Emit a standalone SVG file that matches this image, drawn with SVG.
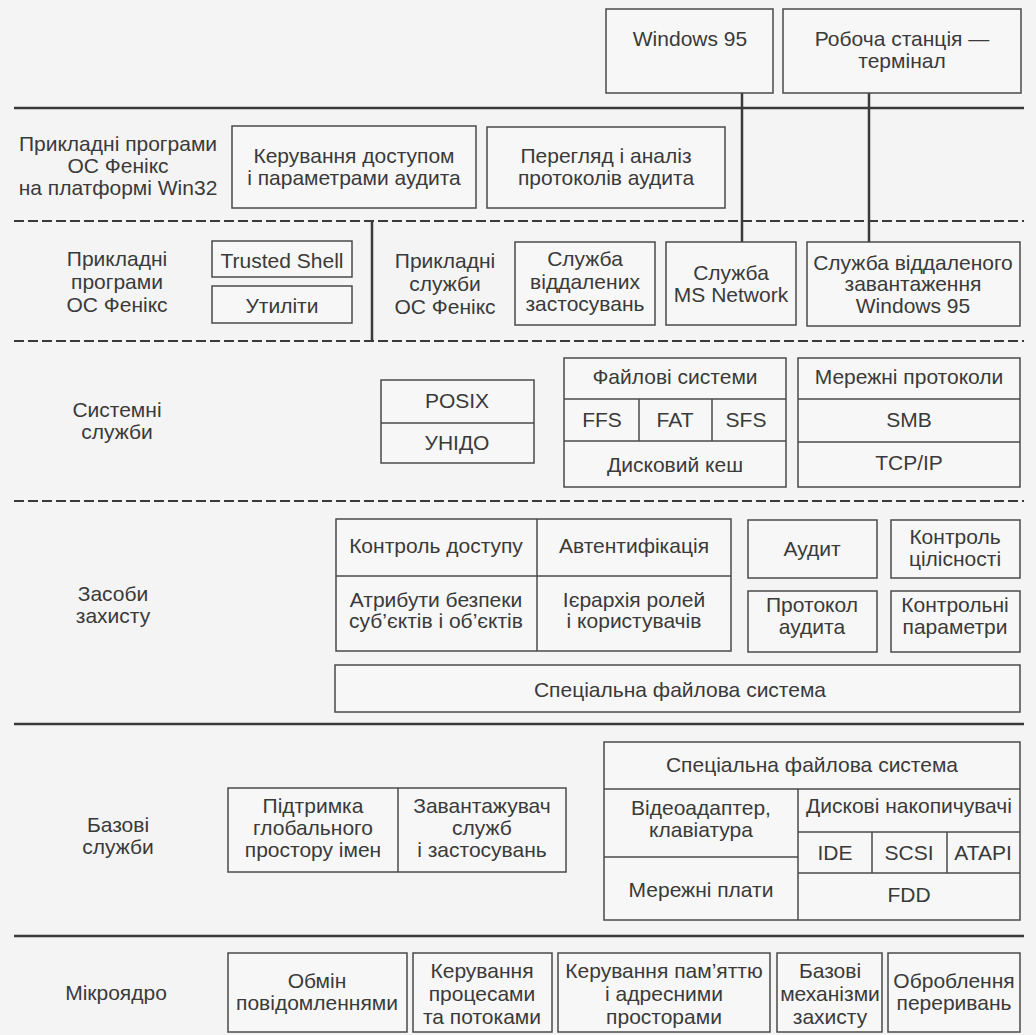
<svg xmlns="http://www.w3.org/2000/svg" width="1036" height="1035" viewBox="0 0 1036 1035">
<style>
.bg{fill:#f4f4f4}
.box{fill:#f7f7f7;stroke:#4a4a4a;stroke-width:1.5}
.dv{stroke:#4a4a4a;stroke-width:1.5;fill:none}
.t{font-family:"Liberation Sans",Arial,sans-serif;font-size:21px;fill:#3a3a3a;text-anchor:middle}
.sep{stroke:#3a3a3a;stroke-width:2.5;fill:none}
.dash{stroke:#3a3a3a;stroke-width:2;stroke-dasharray:10 4;fill:none}
.conn{stroke:#3a3a3a;stroke-width:2.5;fill:none}
</style>
<rect class="bg" x="0" y="0" width="1036" height="1035"/>

<g id="layers">
  <line class="sep" x1="14" y1="108" x2="1024" y2="108"/>
  <line class="dash" x1="14" y1="221" x2="1024" y2="221"/>
  <line class="dash" x1="14" y1="341" x2="1024" y2="341"/>
  <line class="dash" x1="14" y1="501" x2="1024" y2="501"/>
  <line class="sep" x1="14" y1="724" x2="1024" y2="724"/>
  <line class="sep" x1="14" y1="936" x2="1024" y2="936"/>
  <line class="conn" x1="372" y1="221" x2="372" y2="341"/>
</g>

<g id="layer-labels">
  <g id="lbl-win32">
    <text class="t" x="118" y="151">Прикладні програми</text>
    <text class="t" x="118" y="173">ОС Фенікс</text>
    <text class="t" x="118" y="195">на платформі Win32</text>
  </g>
  <g id="lbl-apps">
    <text class="t" x="117" y="266">Прикладні</text>
    <text class="t" x="117" y="289">програми</text>
    <text class="t" x="117" y="312">ОС Фенікс</text>
  </g>
  <g id="lbl-sys">
    <text class="t" x="117" y="417">Системні</text>
    <text class="t" x="117" y="439">служби</text>
  </g>
  <g id="lbl-sec">
    <text class="t" x="113" y="601">Засоби</text>
    <text class="t" x="113" y="623">захисту</text>
  </g>
  <g id="lbl-base">
    <text class="t" x="118" y="832">Базові</text>
    <text class="t" x="118" y="854">служби</text>
  </g>
  <g id="lbl-micro">
    <text class="t" x="116" y="1000">Мікроядро</text>
  </g>
</g>

<g id="connectors">
  <line class="conn" x1="742" y1="93" x2="742" y2="242"/>
  <line class="conn" x1="869" y1="93" x2="869" y2="242"/>
</g>

<g id="win95">
  <rect class="box" x="606" y="9" width="167" height="84"/>
  <text class="t" x="690" y="46">Windows 95</text>
</g>
<g id="workstation">
  <rect class="box" x="783" y="9" width="238" height="84"/>
  <text class="t" x="902" y="46">Робоча станція —</text>
  <text class="t" x="902" y="68">термінал</text>
</g>

<g id="access-audit-params">
  <rect class="box" x="232" y="126" width="244" height="82"/>
  <text class="t" x="354" y="163">Керування доступом</text>
  <text class="t" x="354" y="185">і параметрами аудита</text>
</g>
<g id="audit-view">
  <rect class="box" x="487" y="127" width="238" height="81"/>
  <text class="t" x="606" y="163">Перегляд і аналіз</text>
  <text class="t" x="606" y="185">протоколів аудита</text>
</g>

<g id="trusted-shell">
  <rect class="box" x="212" y="241" width="140" height="36"/>
  <text class="t" x="282" y="268">Trusted Shell</text>
</g>
<g id="utilities">
  <rect class="box" x="212" y="286" width="140" height="37"/>
  <text class="t" x="282" y="313">Утиліти</text>
</g>
<g id="app-services">
  <text class="t" x="445" y="268">Прикладні</text>
  <text class="t" x="445" y="291">служби</text>
  <text class="t" x="445" y="314">ОС Фенікс</text>
</g>
<g id="remote-apps">
  <rect class="box" x="515" y="242" width="140" height="83"/>
  <text class="t" x="585" y="266">Служба</text>
  <text class="t" x="585" y="289">віддалених</text>
  <text class="t" x="585" y="311">застосувань</text>
</g>
<g id="ms-network">
  <rect class="box" x="666" y="242" width="130" height="83"/>
  <text class="t" x="731" y="280">Служба</text>
  <text class="t" x="731" y="302">MS Network</text>
</g>
<g id="remote-boot">
  <rect class="box" x="807" y="242" width="213" height="84"/>
  <text class="t" x="913" y="270">Служба віддаленого</text>
  <text class="t" x="913" y="291">завантаження</text>
  <text class="t" x="913" y="313">Windows 95</text>
</g>

<g id="posix-unido">
  <rect class="box" x="381" y="380" width="153" height="83"/>
  <line class="dv" x1="381" y1="423" x2="534" y2="423"/>
  <text class="t" x="457" y="408">POSIX</text>
  <text class="t" x="457" y="450">УНІДО</text>
</g>
<g id="file-systems">
  <rect class="box" x="564" y="358" width="222" height="129"/>
  <line class="dv" x1="564" y1="399" x2="786" y2="399"/>
  <line class="dv" x1="564" y1="441" x2="786" y2="441"/>
  <line class="dv" x1="639" y1="399" x2="639" y2="441"/>
  <line class="dv" x1="712" y1="399" x2="712" y2="441"/>
  <text class="t" x="675" y="384">Файлові системи</text>
  <text class="t" x="602" y="427">FFS</text>
  <text class="t" x="675" y="427">FAT</text>
  <text class="t" x="746" y="427">SFS</text>
  <text class="t" x="675" y="472">Дисковий кеш</text>
</g>
<g id="net-protocols">
  <rect class="box" x="798" y="358" width="222" height="129"/>
  <line class="dv" x1="798" y1="399" x2="1020" y2="399"/>
  <line class="dv" x1="798" y1="442" x2="1020" y2="442"/>
  <text class="t" x="909" y="384">Мережні протоколи</text>
  <text class="t" x="909" y="427">SMB</text>
  <text class="t" x="909" y="470">TCP/IP</text>
</g>

<g id="security-core">
  <rect class="box" x="336" y="519" width="395" height="132"/>
  <line class="dv" x1="336" y1="576" x2="731" y2="576"/>
  <line class="dv" x1="537" y1="519" x2="537" y2="651"/>
  <text class="t" x="436" y="553">Контроль доступу</text>
  <text class="t" x="634" y="553">Автентифікація</text>
  <text class="t" x="436" y="607">Атрибути безпеки</text>
  <text class="t" x="436" y="628">суб’єктів і об’єктів</text>
  <text class="t" x="634" y="607">Ієрархія ролей</text>
  <text class="t" x="634" y="628">і користувачів</text>
</g>
<g id="audit">
  <rect class="box" x="748" y="520" width="129" height="58"/>
  <text class="t" x="812" y="556">Аудит</text>
</g>
<g id="integrity">
  <rect class="box" x="891" y="520" width="129" height="58"/>
  <text class="t" x="955" y="544">Контроль</text>
  <text class="t" x="955" y="566">цілісності</text>
</g>
<g id="audit-log">
  <rect class="box" x="748" y="591" width="129" height="61"/>
  <text class="t" x="812" y="612">Протокол</text>
  <text class="t" x="812" y="634">аудита</text>
</g>
<g id="control-params">
  <rect class="box" x="891" y="591" width="129" height="61"/>
  <text class="t" x="955" y="612">Контрольні</text>
  <text class="t" x="955" y="634">параметри</text>
</g>
<g id="special-fs-sec">
  <rect class="box" x="335" y="665" width="685" height="47"/>
  <text class="t" x="680" y="697">Спеціальна файлова система</text>
</g>

<g id="namespace-loader">
  <rect class="box" x="228" y="788" width="338" height="84"/>
  <line class="dv" x1="398" y1="788" x2="398" y2="872"/>
  <text class="t" x="313" y="813">Підтримка</text>
  <text class="t" x="313" y="835">глобального</text>
  <text class="t" x="313" y="857">простору імен</text>
  <text class="t" x="482" y="813">Завантажувач</text>
  <text class="t" x="482" y="835">служб</text>
  <text class="t" x="482" y="857">і застосувань</text>
</g>
<g id="drivers">
  <rect class="box" x="604" y="742" width="416" height="178"/>
  <line class="dv" x1="604" y1="789" x2="1020" y2="789"/>
  <line class="dv" x1="798" y1="789" x2="798" y2="920"/>
  <line class="dv" x1="604" y1="857" x2="798" y2="857"/>
  <line class="dv" x1="798" y1="832" x2="1020" y2="832"/>
  <line class="dv" x1="798" y1="873" x2="1020" y2="873"/>
  <line class="dv" x1="872" y1="832" x2="872" y2="873"/>
  <line class="dv" x1="947" y1="832" x2="947" y2="873"/>
  <text class="t" x="812" y="772">Спеціальна файлова система</text>
  <text class="t" x="701" y="815">Відеоадаптер,</text>
  <text class="t" x="701" y="837">клавіатура</text>
  <text class="t" x="701" y="897">Мережні плати</text>
  <text class="t" x="909" y="813">Дискові накопичувачі</text>
  <text class="t" x="835" y="860">IDE</text>
  <text class="t" x="909" y="860">SCSI</text>
  <text class="t" x="983" y="860">ATAPI</text>
  <text class="t" x="909" y="902">FDD</text>
</g>

<g id="messaging">
  <rect class="box" x="228" y="953" width="179" height="79"/>
  <text class="t" x="317" y="988">Обмін</text>
  <text class="t" x="317" y="1010">повідомленнями</text>
</g>
<g id="processes">
  <rect class="box" x="413" y="953" width="139" height="79"/>
  <text class="t" x="482" y="978">Керування</text>
  <text class="t" x="482" y="1001">процесами</text>
  <text class="t" x="482" y="1024">та потоками</text>
</g>
<g id="memory">
  <rect class="box" x="558" y="953" width="212" height="79"/>
  <text class="t" x="664" y="978">Керування пам’яттю</text>
  <text class="t" x="664" y="1001">і адресними</text>
  <text class="t" x="664" y="1024">просторами</text>
</g>
<g id="base-protection">
  <rect class="box" x="777" y="953" width="105" height="79"/>
  <text class="t" x="830" y="978">Базові</text>
  <text class="t" x="830" y="1001">механізми</text>
  <text class="t" x="830" y="1024">захисту</text>
</g>
<g id="interrupts">
  <rect class="box" x="888" y="953" width="132" height="79"/>
  <text class="t" x="954" y="988">Оброблення</text>
  <text class="t" x="954" y="1010">переривань</text>
</g>
</svg>
